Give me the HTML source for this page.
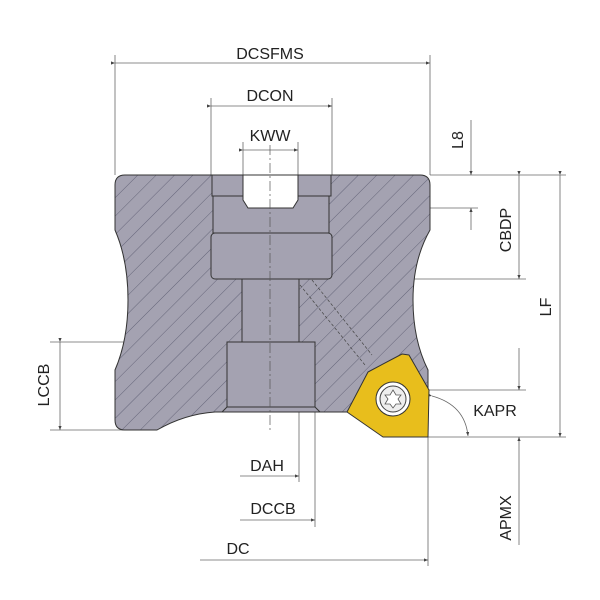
<!DOCTYPE html><html><head><style>body{margin:0;background:#fff}svg{display:block}text{font-family:"Liberation Sans","DejaVu Sans",sans-serif;font-size:16px;fill:#222}</style></head><body>
<svg width="600" height="600" viewBox="0 0 600 600">
<defs>
<pattern id="h" patternUnits="userSpaceOnUse" width="13" height="13" patternTransform="rotate(45)"><rect width="13" height="13" fill="#a4a2b1"/><line x1="0" y1="0" x2="0" y2="13" stroke="#55556a" stroke-width="0.8"/></pattern>
<marker id="a" markerWidth="6" markerHeight="6" refX="5" refY="3" orient="auto"><path d="M0,1 L5,3 L0,5z" fill="#444"/></marker>
</defs>
<g stroke="#666" stroke-width="0.8" fill="none">
<line x1="115" y1="55" x2="115" y2="175"/><line x1="430" y1="55" x2="430" y2="175"/>
<line x1="211" y1="98" x2="211" y2="175"/><line x1="332" y1="98" x2="332" y2="175"/>
<line x1="243" y1="142" x2="243" y2="175"/><line x1="298" y1="142" x2="298" y2="175"/>
<line x1="115" y1="63" x2="430" y2="63" marker-start="url(#a)" marker-end="url(#a)"/>
<line x1="211" y1="106" x2="332" y2="106" marker-start="url(#a)" marker-end="url(#a)"/>
<line x1="243" y1="150" x2="298" y2="150" marker-start="url(#a)" marker-end="url(#a)"/>
<line x1="430" y1="175" x2="566" y2="175"/><line x1="300" y1="208" x2="478" y2="208"/>
<line x1="471" y1="120" x2="471" y2="175" marker-end="url(#a)"/><line x1="471" y1="230" x2="471" y2="208" marker-end="url(#a)"/>
<line x1="519" y1="175" x2="519" y2="279" marker-start="url(#a)" marker-end="url(#a)"/>
<line x1="332" y1="279" x2="526" y2="279"/>
<line x1="560" y1="175" x2="560" y2="437" marker-start="url(#a)" marker-end="url(#a)"/>
<line x1="428" y1="390" x2="526" y2="390"/><line x1="428" y1="437" x2="566" y2="437"/>
<line x1="519" y1="348" x2="519" y2="390" marker-end="url(#a)"/><line x1="519" y1="545" x2="519" y2="437" marker-end="url(#a)"/>
<path d="M432,396 Q465,405 468,436" marker-start="url(#a)" marker-end="url(#a)"/>
<line x1="50" y1="342" x2="227" y2="342"/><line x1="50" y1="430" x2="157" y2="430"/>
<line x1="60" y1="342" x2="60" y2="430" marker-start="url(#a)" marker-end="url(#a)"/>
<line x1="299" y1="279" x2="299" y2="482"/><line x1="315" y1="342" x2="315" y2="527"/><line x1="428" y1="437" x2="428" y2="566"/>
<line x1="240" y1="476" x2="299" y2="476" marker-end="url(#a)"/>
<line x1="240" y1="520" x2="315" y2="520" marker-end="url(#a)"/>
<line x1="200" y1="560" x2="428" y2="560" marker-end="url(#a)"/>
</g>
<path d="M125,175 L420,175 Q430,175 430,185 L430,230 Q413,260 413,300 Q413,340 428,370 L428,393 L348,412 L215,412 Q185,414 157,430 L125,430 Q115,430 115,420 L115,370 Q128,340 128,300 Q128,260 115,230 L115,185 Q115,175 125,175Z" fill="url(#h)" stroke="#333" stroke-width="1"/>
<g fill="#a4a2b1" stroke="#333" stroke-width="1">
<rect x="212" y="175" width="31" height="21"/><rect x="298" y="175" width="33" height="21"/>
<rect x="213" y="196" width="116" height="37"/>
<path d="M243,175 L243,200 L248,208 L293,208 L298,200 L298,175Z" fill="#fff"/>
<rect x="211" y="233" width="121" height="46" rx="4"/>
<rect x="242" y="279" width="57" height="63"/>
<rect x="227" y="342" width="88" height="66"/>
<path d="M227,407 L315,407 L320,412 L222,412Z"/>
</g>
<g stroke="#444" stroke-width="0.7" stroke-dasharray="3,2" fill="none"><line x1="300" y1="285" x2="365" y2="365"/><line x1="312" y1="280" x2="372" y2="355"/></g>
<line x1="270" y1="145" x2="270" y2="430" stroke="#555" stroke-width="0.7" stroke-dasharray="10,3,2,3"/>
<path d="M402,354 L409,355 L429,390 L428,437 L383,437 L347,412 L368,372Z" fill="#e8be1c" stroke="#333" stroke-width="1" stroke-linejoin="round"/>
<circle cx="393" cy="399" r="17" fill="#fff" stroke="#333"/><circle cx="393" cy="399" r="13" fill="#eee" stroke="#444"/>
<path d="M393,390 L396,395 L401,395 L398,399 L401,404 L396,404 L393,408 L390,404 L385,404 L388,399 L385,395 L390,395Z" fill="#fff" stroke="#555" stroke-width="0.8"/>
<text x="270" y="59" text-anchor="middle">DCSFMS</text>
<text x="270" y="101" text-anchor="middle">DCON</text>
<text x="270" y="141" text-anchor="middle">KWW</text>
<text x="267" y="471" text-anchor="middle">DAH</text>
<text x="273" y="514" text-anchor="middle">DCCB</text>
<text x="238" y="554" text-anchor="middle">DC</text>
<text x="495" y="416" text-anchor="middle">KAPR</text>
<text transform="translate(463,140) rotate(-90)" text-anchor="middle">L8</text>
<text transform="translate(511,230) rotate(-90)" text-anchor="middle">CBDP</text>
<text transform="translate(551,307) rotate(-90)" text-anchor="middle">LF</text>
<text transform="translate(511,518) rotate(-90)" text-anchor="middle">APMX</text>
<text transform="translate(49,385) rotate(-90)" text-anchor="middle">LCCB</text>
</svg></body></html>
